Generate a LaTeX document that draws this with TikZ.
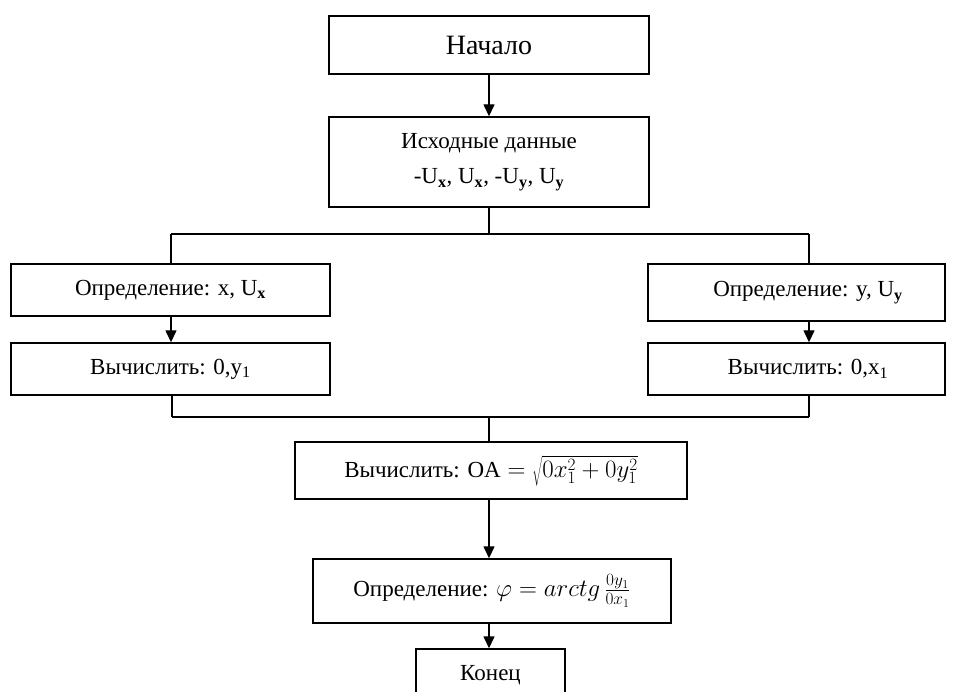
\documentclass[tikz,border=0pt]{standalone}
\usepackage{fontspec}
\setmainfont{Liberation Serif}
\usetikzlibrary{arrows.meta}
\begin{document}
\begin{tikzpicture}[x=1pt,y=-1pt,
  box/.style={draw=black, line width=1.4pt, inner sep=0pt, align=center,
    font=\fontsize{23}{35}\selectfont},
  conn/.style={draw=black, line width=1.4pt},
  arr/.style={conn, -{Triangle[length=12pt,width=11pt]}}]
\useasboundingbox (0,0) rectangle (955,692);
\clip (0,0) rectangle (955,692);
\node[box, minimum width=320, minimum height=58, font=\fontsize{28}{32}\selectfont] (start) at (489,45) {Начало};
\node[box, minimum width=320, minimum height=90] (input) at (489,162)
  {Исходные данные\\-U\textsubscript{\textbf{x}}, U\textsubscript{\textbf{x}}, -U\textsubscript{\textbf{y}}, U\textsubscript{\textbf{y}}};
\node[box, minimum width=319, minimum height=52] (l1) at (170.5,290) {Определение: x, U\textsubscript{\textbf{x}}};
\node[box, minimum width=319, minimum height=52] (l2) at (170.5,369) {Вычислить: 0,y\textsubscript{1}};
\node[box, minimum width=297, minimum height=57] (r1) at (796.5,292.5) {\hspace*{23pt}Определение: y, U\textsubscript{\textbf{y}}};
\node[box, minimum width=297, minimum height=52] (r2) at (796.5,369) {\hspace*{23pt}Вычислить: 0,x\textsubscript{1}};
\node[box, minimum width=392, minimum height=57] (oa) at (491,470.5)
  {Вычислить: $\mathrm{OA}=\sqrt{0x_1^2+0y_1^2}$};
\node[box, minimum width=358, minimum height=64] (phi) at (492,591)
  {Определение: $\varphi = arctg\,\frac{0y_1}{0x_1}$};
\node[box, minimum width=149, minimum height=52] (end) at (490.5,675) {Конец};
\coordinate (sL) at (171,234);
\coordinate (sR) at (809,234);
\coordinate (jL) at (172,417);
\coordinate (jR) at (809,417);
\coordinate (jM) at (489,417);
\draw[arr] (start) -- (input);
\draw[conn] (input.south) -- (input.south |- sL);
\draw[conn] (sL) -- (sR);
\draw[conn] (sL) -- (sL |- l1.north);
\draw[conn] (sR) -- (sR |- r1.north);
\draw[arr] (l1.south -| sL) -- (l2.north -| sL);
\draw[arr] (r1.south -| sR) -- (r2.north -| sR);
\draw[conn] (l2.south -| jL) -- (jL);
\draw[conn] (r2.south -| jR) -- (jR);
\draw[conn] (jL) -- (jR);
\draw[conn] (jM) -- (jM |- oa.north);
\draw[arr] (oa.south -| jM) -- (phi.north -| jM);
\draw[arr] (phi.south -| jM) -- (end.north -| jM);
\end{tikzpicture}
\end{document}
